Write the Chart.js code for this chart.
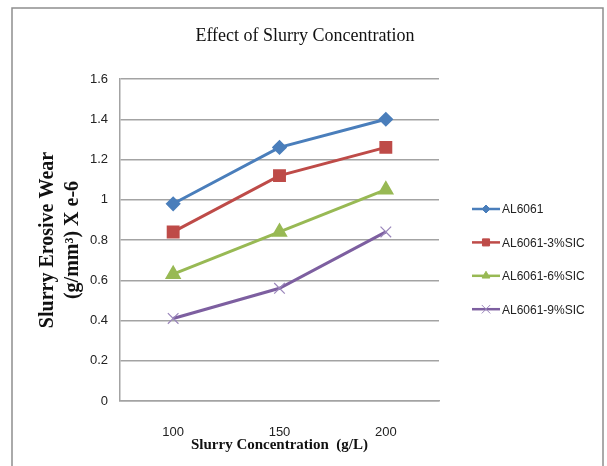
<!DOCTYPE html>
<html>
<head>
<meta charset="utf-8">
<script src="https://cdn.jsdelivr.net/npm/chart.js@4/dist/chart.umd.min.js"></script>
<style>
  html, body { margin: 0; padding: 0; background: #fff; }
  #wrap { width: 607px; height: 466px; }
</style>
</head>
<body>
<div id="wrap"><canvas id="chartLine" width="607" height="466"></canvas></div>
<script>
var ctx = document.getElementById('chartLine').getContext('2d');

const concentrations = ['100', '150', '200'];
const al6061 = [0.98, 1.26, 1.40];
const al6061_3sic = [0.84, 1.12, 1.26];
const al6061_6sic = [0.63, 0.84, 1.05];
const al6061_9sic = [0.41, 0.56, 0.84];
const seriesNames = ['AL6061', 'AL6061-3%SIC', 'AL6061-6%SIC', 'AL6061-9%SIC'];
const chartTitle = 'Effect of Slurry Concentration';

const gridColor = '#a3a3a3';

// outer frame + title (title sits over the whole chart, not only the plot)
const framePlugin = {
    id: 'frame',
    beforeDraw: (chart) => {
        const c = chart.ctx;
        c.save();
        c.strokeStyle = '#8e8e8e';
        c.lineWidth = 1.5;
        c.beginPath();
        c.moveTo(12, 470);
        c.lineTo(12, 8);
        c.lineTo(603, 8);
        c.lineTo(603, 470);
        c.stroke();
        c.fillStyle = '#111';
        c.font = '18px "Liberation Serif", "Times New Roman", serif';
        c.textAlign = 'center';
        c.textBaseline = 'middle';
        c.fillText(chartTitle, 305, 36);
        c.restore();
    }
};

// legend drawn as line + marker, like the original
const legendPlugin = {
    id: 'lineLegend',
    afterDraw: (chart) => {
        const c = chart.ctx;
        c.save();
        chart.data.datasets.forEach((ds, i) => {
            const y = 209 + i * 33.4;
            c.strokeStyle = ds.borderColor;
            c.lineWidth = 2.5;
            c.beginPath();
            c.moveTo(472, y);
            c.lineTo(500, y);
            c.stroke();
            const opts = {
                pointStyle: ds.pointStyle,
                radius: ds.legendRadius,
                rotation: 0,
                borderWidth: 1
            };
            c.fillStyle = ds.pointBackgroundColor;
            c.strokeStyle = ds.pointBorderColor;
            c.lineWidth = opts.borderWidth;
            Chart.helpers.drawPoint(c, opts, 486, y);
            c.fillStyle = '#222';
            c.font = '12px "Liberation Sans", Arial, sans-serif';
            c.textAlign = 'left';
            c.textBaseline = 'middle';
            c.fillText(ds.label, 502, y + 1);
        });
        c.restore();
    }
};

var chart = new Chart(ctx, {
    type: 'line',
    data: {
        labels: concentrations,
        datasets: [{
            label: seriesNames[0],
            data: al6061,
            borderColor: '#4a7ebb',
            backgroundColor: '#4a7ebb',
            pointBackgroundColor: '#4a7ebb',
            pointBorderColor: '#4a7ebb',
            pointStyle: 'rectRot',
            pointRadius: 5.5,
            legendRadius: 4,
            borderWidth: 3
        },
        {
            label: seriesNames[1],
            data: al6061_3sic,
            borderColor: '#be4b48',
            backgroundColor: '#be4b48',
            pointBackgroundColor: '#be4b48',
            pointBorderColor: '#be4b48',
            pointStyle: 'rect',
            pointRadius: 7,
            legendRadius: 5,
            borderWidth: 3
        },
        {
            label: seriesNames[2],
            data: al6061_6sic,
            borderColor: '#98b954',
            backgroundColor: '#98b954',
            pointBackgroundColor: '#98b954',
            pointBorderColor: '#98b954',
            pointStyle: 'triangle',
            pointRadius: 6.5,
            legendRadius: 4.5,
            borderWidth: 3
        },
        {
            label: seriesNames[3],
            data: al6061_9sic,
            borderColor: '#7d5fa0',
            backgroundColor: '#7d5fa0',
            pointBackgroundColor: '#7d5fa0',
            pointBorderColor: '#9a86bb',
            pointStyle: 'crossRot',
            pointRadius: 7.5,
            pointBorderWidth: 1.2,
            legendRadius: 6,
            borderWidth: 3
        }]
    },
    options: {
        responsive: false,
        animation: false,
        devicePixelRatio: 1,
        layout: { padding: { left: 0, right: 168, top: 79, bottom: 0 } },
        plugins: {
            legend: { display: false },
            tooltip: { enabled: false },
            title: { display: false }
        },
        scales: {
            x: {
                offset: true,
                grid: { display: false, drawTicks: false },
                border: { display: true, color: gridColor, width: 1.5 },
                ticks: {
                    color: '#222',
                    padding: 24,
                    font: { family: '"Liberation Sans", Arial, sans-serif', size: 13 }
                },
                title: {
                    display: true,
                    text: 'Slurry Concentration  (g/L)',
                    color: '#111',
                    font: { family: '"Liberation Serif", "Times New Roman", serif', size: 15, weight: 'bold', lineHeight: 1.2 },
                    padding: { top: 0, bottom: 12 }
                },
                afterFit: (scale) => { scale.height = 65; }
            },
            y: {
                min: 0,
                max: 1.6,
                ticks: {
                    stepSize: 0.2,
                    color: '#222',
                    padding: 12,
                    font: { family: '"Liberation Sans", Arial, sans-serif', size: 13 },
                    callback: (v) => Number(v.toFixed(1)).toString()
                },
                grid: { color: gridColor, lineWidth: 1.5, drawTicks: false },
                border: { display: true, color: gridColor, width: 1.5 },
                title: {
                    display: true,
                    text: ['Slurry Erosive Wear', '(g/mm\u00b3) X e-6'],
                    color: '#111',
                    font: { family: '"Liberation Serif", "Times New Roman", serif', size: 20, weight: 'bold', lineHeight: 1.25 },
                    padding: { top: 35.5, bottom: 0 }
                },
                afterFit: (scale) => { scale.width = 120; }
            }
        }
    },
    plugins: [framePlugin, legendPlugin]
});
</script>
</body>
</html>
